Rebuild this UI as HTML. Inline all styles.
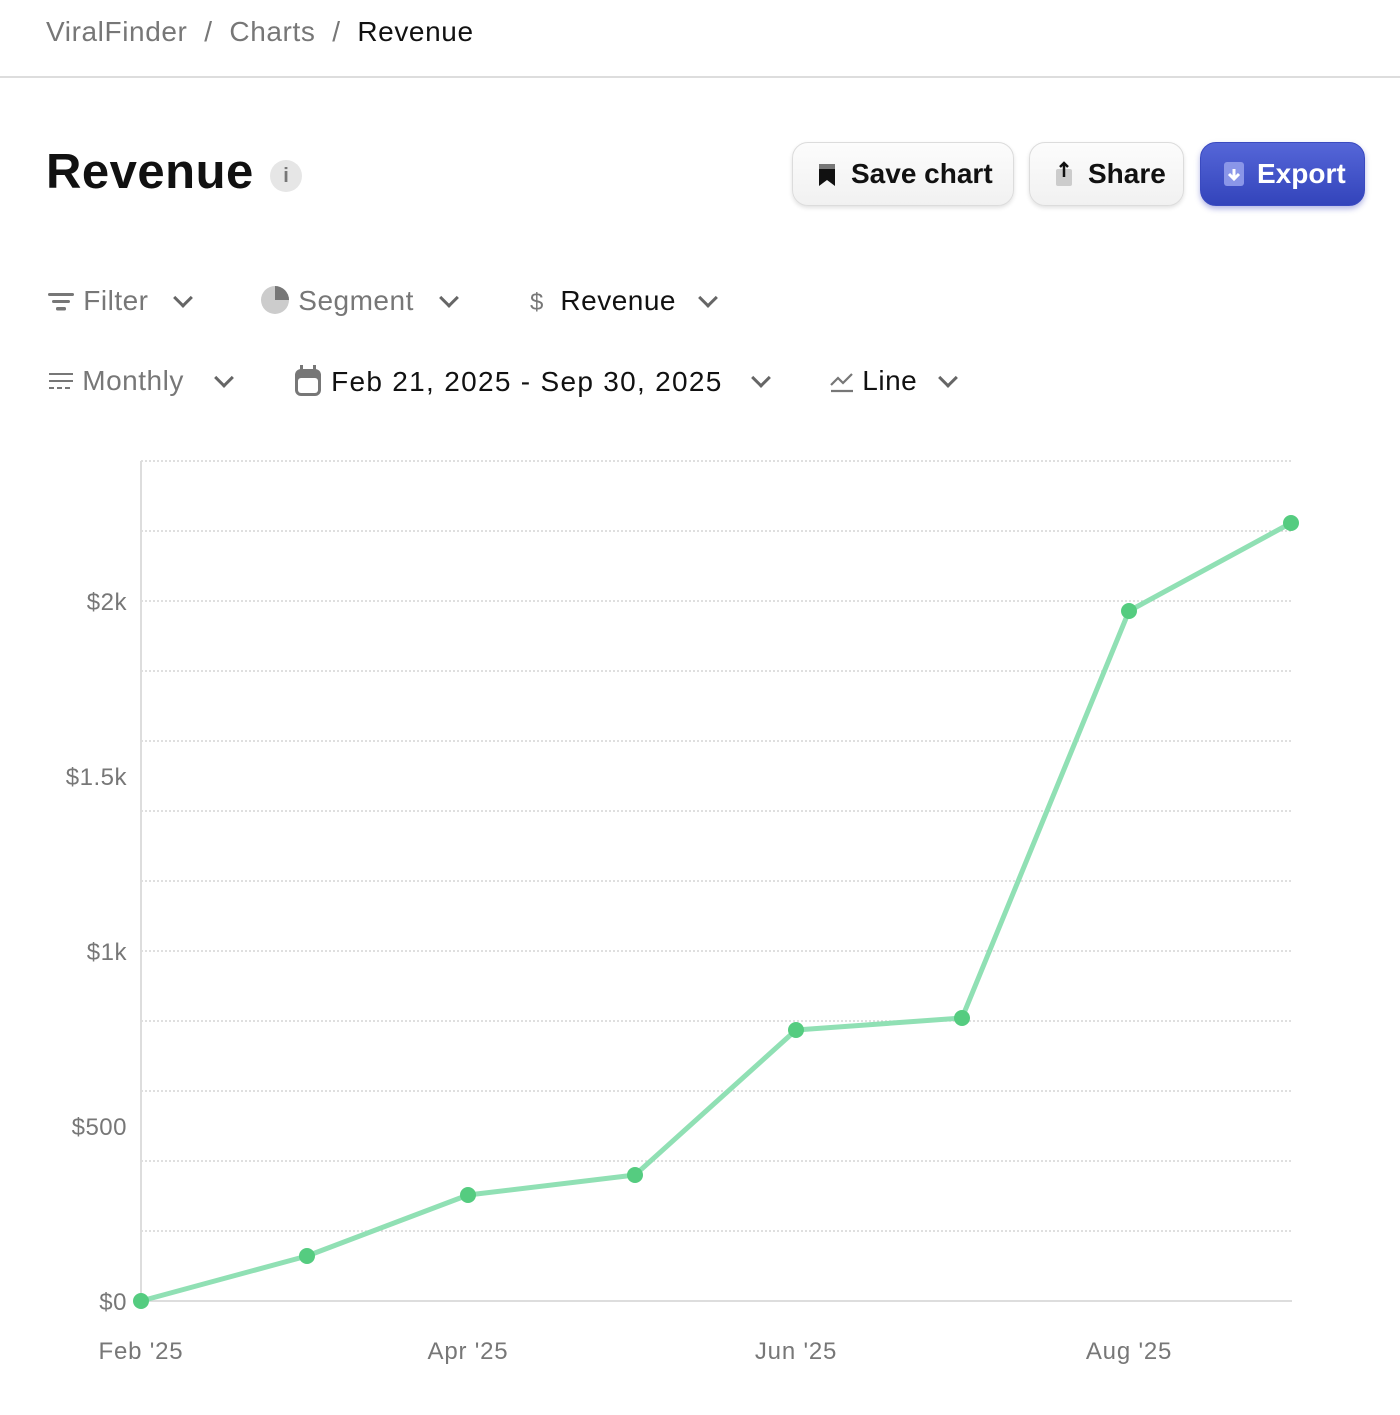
<!DOCTYPE html>
<html><head><meta charset="utf-8"><style>
body{margin:0;width:1400px;height:1415px;background:#fff;font-family:"Liberation Sans",sans-serif;position:relative;overflow:hidden}
.a{position:absolute;white-space:nowrap}
.bc{top:16px;font-size:28px;color:#777;letter-spacing:0.6px}
.btn{position:absolute;top:142px;height:64px;border-radius:16px;background:linear-gradient(#fcfcfc,#f1f1f1);border:1px solid #dcdcdc;box-shadow:0 2px 4px rgba(0,0,0,.12);font-size:28px;font-weight:bold;color:#111;display:flex;align-items:center;box-sizing:border-box}
.ctl{font-size:28px;color:#777;letter-spacing:0.5px}
.dk{color:#111}
.chev{display:inline-block;width:11px;height:11px;border-right:3px solid #666;border-bottom:3px solid #666;transform:rotate(45deg);position:absolute}
</style></head><body>
<div class="a bc" style="left:46px">ViralFinder &nbsp;/&nbsp; Charts &nbsp;/&nbsp; <span style="color:#111">Revenue</span></div>
<div class="a" style="left:0;top:76px;width:1400px;height:2px;background:#ddd"></div>
<div class="a" style="left:46px;top:144px;font-size:49px;font-weight:bold;color:#111;letter-spacing:0.5px">Revenue</div>
<div class="a" style="left:270px;top:160px;width:32px;height:32px;border-radius:50%;background:#e6e6e6;color:#777;font-size:20px;font-weight:bold;text-align:center;line-height:32px">i</div>
<div class="btn" style="left:792px;width:222px;padding-left:24px"><svg width="20" height="24" viewBox="0 0 20 24"><path d="M2 2h16v22l-8-6-8 6z" fill="#111"/><rect x="2" y="2" width="16" height="5" fill="#777"/></svg><span style="margin-left:14px">Save chart</span></div>
<div class="btn" style="left:1029px;width:155px;padding-left:24px"><svg width="20" height="26" viewBox="0 0 20 26"><rect x="2" y="8" width="16" height="17" rx="2" fill="#ccc"/><path d="M10 2v14M6 6l4-4 4 4" stroke="#111" stroke-width="2.5" fill="none"/></svg><span style="margin-left:14px">Share</span></div>
<div class="btn" style="left:1200px;width:165px;padding-left:22px;background:linear-gradient(#5566d8,#3344bb);border-color:#3a4ac0;color:#fff;box-shadow:0 3px 6px rgba(40,50,180,.35)"><svg width="22" height="28" viewBox="0 0 22 28"><rect x="1" y="2" width="20" height="24" rx="3" fill="#8a96e8"/><path d="M11 9v10M6 14l5 5 5-5" stroke="#fff" stroke-width="3" fill="none"/></svg><span style="margin-left:12px">Export</span></div>

<div class="a ctl" style="left:47px;top:285px"><svg width="28" height="24" style="vertical-align:-3px"><rect x="1" y="4" width="26" height="3" rx="1.5" fill="#777"/><rect x="5" y="11" width="18" height="3" rx="1.5" fill="#777"/><rect x="9" y="18" width="10" height="3.5" rx="1.5" fill="#777"/></svg> Filter</div>
<span class="chev" style="left:176px;top:291px"></span>
<div class="a ctl" style="left:260px;top:285px"><svg width="30" height="30" style="vertical-align:-5px"><circle cx="15" cy="15" r="14" fill="#ccc"/><path d="M15 1A14 14 0 0 1 29 15H15z" fill="#777"/></svg> Segment</div>
<span class="chev" style="left:442px;top:291px"></span>
<div class="a ctl dk" style="left:530px;top:285px"><span style="color:#777;font-size:24px">$</span>&nbsp; Revenue</div>
<span class="chev" style="left:701px;top:291px"></span>

<div class="a ctl" style="left:48px;top:365px"><svg width="26" height="22" style="vertical-align:-2px"><g stroke="#777" stroke-width="2"><path d="M1 4h24M1 11h24"/><path d="M1 18h24" stroke-dasharray="5 3"/></g></svg> Monthly</div>
<span class="chev" style="left:217px;top:371px"></span>
<div class="a ctl dk" style="left:294px;top:365px;letter-spacing:1.3px"><svg width="28" height="32" style="vertical-align:-6px"><rect x="1" y="4" width="26" height="27" rx="6" fill="#777"/><rect x="4" y="13" width="20" height="15" rx="3" fill="#fff"/><rect x="6" y="0" width="3" height="6" fill="#777"/><rect x="19" y="0" width="3" height="6" fill="#777"/></svg> Feb 21, 2025 - Sep 30, 2025</div>
<span class="chev" style="left:754px;top:371px"></span>
<div class="a ctl dk" style="left:830px;top:365px"><svg width="24" height="24" style="vertical-align:-3px"><path d="M1 16l7-7 5 5 9-9M1 22h22" stroke="#777" stroke-width="2.2" fill="none"/></svg> Line</div>
<span class="chev" style="left:941px;top:371px"></span>

<svg class="a" style="left:0;top:0" width="1400" height="1415">
<g stroke="#ccc" stroke-width="1.2" stroke-dasharray="2 2">
<line x1="141" x2="1292" y1="461" y2="461"/><line x1="141" x2="1292" y1="531" y2="531"/><line x1="141" x2="1292" y1="601" y2="601"/><line x1="141" x2="1292" y1="671" y2="671"/><line x1="141" x2="1292" y1="741" y2="741"/><line x1="141" x2="1292" y1="811" y2="811"/><line x1="141" x2="1292" y1="881" y2="881"/><line x1="141" x2="1292" y1="951" y2="951"/><line x1="141" x2="1292" y1="1021" y2="1021"/><line x1="141" x2="1292" y1="1091" y2="1091"/><line x1="141" x2="1292" y1="1161" y2="1161"/><line x1="141" x2="1292" y1="1231" y2="1231"/>
</g>
<line x1="141" x2="141" y1="461" y2="1301" stroke="#ddd" stroke-width="2"/>
<line x1="141" x2="1292" y1="1301" y2="1301" stroke="#ddd" stroke-width="2"/>
<g font-size="24" fill="#777" text-anchor="end" font-family="Liberation Sans" letter-spacing="0.5">
<text x="127" y="610">$2k</text><text x="127" y="785">$1.5k</text><text x="127" y="960">$1k</text><text x="127" y="1135">$500</text><text x="127" y="1310">$0</text></g>
<g font-size="24" fill="#777" text-anchor="middle" font-family="Liberation Sans" letter-spacing="0.8">
<text x="141" y="1359">Feb '25</text><text x="468" y="1359">Apr '25</text><text x="796" y="1359">Jun '25</text><text x="1129" y="1359">Aug '25</text></g>
<polyline points="141,1301 307,1256 468,1195 635,1175 796,1030 962,1018 1129,611 1291,523" fill="none" stroke="#90e0b4" stroke-width="5" stroke-linejoin="round"/>
<g fill="#55cc80"><circle cx="141" cy="1301" r="8"/><circle cx="307" cy="1256" r="8"/><circle cx="468" cy="1195" r="8"/><circle cx="635" cy="1175" r="8"/><circle cx="796" cy="1030" r="8"/><circle cx="962" cy="1018" r="8"/><circle cx="1129" cy="611" r="8"/><circle cx="1291" cy="523" r="8"/></g>
</svg>
</body></html>
